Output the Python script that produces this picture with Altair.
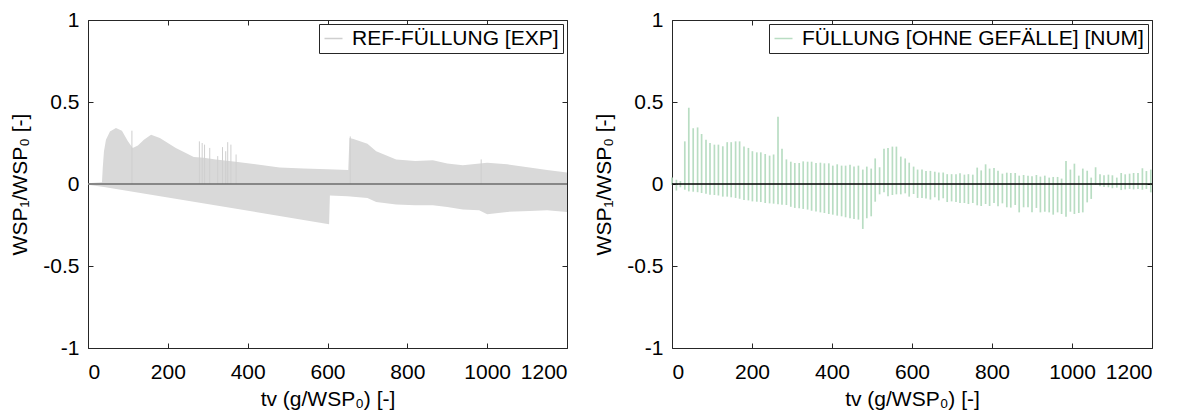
import altair as alt
import pandas as pd

# ---------------- data ----------------
# Left panel: envelope of the dense experimental signal
ref_upper_tv = [0, 35, 37, 40, 45, 55, 70, 85, 100, 112,
                125, 140, 158, 180, 200, 220, 240, 265, 290, 320,
                370, 420, 480, 540, 600, 652, 655, 665, 700, 722,
                772, 820, 864, 900, 939, 1000, 1050, 1106, 1150, 1200]
ref_upper = [0.005, 0.01, 0.1, 0.2, 0.27, 0.32, 0.342, 0.325, 0.26, 0.22,
             0.235, 0.27, 0.30, 0.28, 0.25, 0.22, 0.195, 0.165, 0.16, 0.15,
             0.135, 0.12, 0.10, 0.095, 0.09, 0.085, 0.28, 0.275, 0.245, 0.20,
             0.15, 0.14, 0.145, 0.125, 0.115, 0.13, 0.12, 0.10, 0.085, 0.07]
ref_lower_tv = [0, 40, 604, 606, 650, 700, 722, 772, 820, 864,
                900, 939, 980, 1000, 1050, 1106, 1150, 1200]
ref_lower = [-0.005, -0.018, -0.245, -0.07, -0.075, -0.085, -0.11, -0.125, -0.13, -0.13,
             -0.14, -0.155, -0.16, -0.185, -0.17, -0.165, -0.16, -0.17]
ref_spike_tv = [110, 279, 286, 292, 305, 325, 337, 345, 350, 358, 371, 657, 985]
ref_spike_top = [0.325, 0.26, 0.25, 0.24, 0.22, 0.17, 0.225, 0.2, 0.255, 0.24, 0.18, 0.29, 0.15]

# Right panel: numerical signal (vertical bursts)
num_tv = [0, 11, 21, 32, 42, 53, 64, 74, 85, 95,
          106, 116, 127, 138, 148, 159, 169, 180, 191, 201,
          212, 222, 233, 244, 254, 265, 275, 286, 297, 307,
          318, 328, 339, 349, 360, 371, 381, 392, 402, 413,
          424, 434, 445, 455, 466, 477, 487, 498, 508, 519,
          530, 540, 551, 561, 572, 583, 593, 604, 614, 625,
          635, 646, 657, 667, 678, 688, 699, 710, 720, 731,
          741, 752, 763, 773, 784, 794, 805, 815, 826, 837,
          847, 858, 868, 879, 890, 900, 911, 921, 932, 943,
          953, 964, 974, 985, 996, 1006, 1017, 1027, 1038, 1048,
          1059, 1070, 1080, 1091, 1101, 1112, 1123, 1133, 1144, 1154,
          1165, 1176, 1186, 1197]
num_top = [0.04, 0.026, 0.018, 0.26, 0.465, 0.34, 0.345, 0.305, 0.27, 0.25,
           0.24, 0.24, 0.23, 0.255, 0.255, 0.26, 0.26, 0.228, 0.22, 0.20,
           0.193, 0.193, 0.183, 0.173, 0.18, 0.41, 0.215, 0.15, 0.136, 0.128,
           0.128, 0.138, 0.136, 0.136, 0.128, 0.13, 0.126, 0.126, 0.112, 0.12,
           0.112, 0.112, 0.118, 0.106, 0.112, 0.088, 0.106, 0.094, 0.156, 0.102,
           0.215, 0.22, 0.228, 0.228, 0.167, 0.156, 0.13, 0.106, 0.088, 0.088,
           0.08, 0.08, 0.075, 0.07, 0.07, 0.06, 0.06, 0.059, 0.065, 0.057,
           0.06, 0.057, 0.1, 0.083, 0.12, 0.094, 0.098, 0.081, 0.063, 0.069,
           0.067, 0.067, 0.051, 0.055, 0.051, 0.047, 0.055, 0.045, 0.051, 0.039,
           0.043, 0.043, 0.033, 0.14, 0.088, 0.124, 0.051, 0.094, 0.081, 0.039,
           0.102, 0.06, 0.053, 0.057, 0.053, 0.039, 0.067, 0.059, 0.063, 0.067,
           0.067, 0.096, 0.079, 0.088]
num_bottom = [-0.006, -0.04, -0.02, -0.035, -0.045, -0.047, -0.05, -0.055, -0.06, -0.065,
              -0.067, -0.07, -0.077, -0.077, -0.081, -0.085, -0.09, -0.098, -0.10, -0.106,
              -0.108, -0.11, -0.116, -0.118, -0.12, -0.124, -0.126, -0.128, -0.139, -0.146,
              -0.148, -0.152, -0.156, -0.163, -0.167, -0.173, -0.177, -0.183, -0.187, -0.193,
              -0.197, -0.203, -0.209, -0.213, -0.217, -0.274, -0.209, -0.197, -0.108, -0.063,
              -0.05, -0.075, -0.067, -0.063, -0.063, -0.057, -0.077, -0.061, -0.085, -0.085,
              -0.089, -0.095, -0.081, -0.1, -0.087, -0.11, -0.106, -0.11, -0.116, -0.116,
              -0.122, -0.116, -0.13, -0.134, -0.122, -0.134, -0.116, -0.136, -0.118, -0.142,
              -0.144, -0.128, -0.173, -0.142, -0.142, -0.173, -0.146, -0.173, -0.169, -0.173,
              -0.187, -0.173, -0.183, -0.2, -0.169, -0.183, -0.177, -0.173, -0.112, -0.091,
              -0.006, -0.014, -0.018, -0.02, -0.026, -0.022, -0.037, -0.033, -0.03, -0.033,
              -0.03, -0.035, -0.03, -0.051]

x_ticks = [0, 200, 400, 600, 800, 1000, 1200]
y_ticks = [-1, -0.5, 0, 0.5, 1]
zero_level = [0]

legend_ref = "REF-FÜLLUNG [EXP]"
legend_num = "FÜLLUNG [OHNE GEFÄLLE] [NUM]"
x_title = "tv (g/WSP₀) [-]"
y_title = "WSP₁/WSP₀ [-]"

# ---------------- styling ----------------
FONT = "Liberation Sans"
FS = 21
W, H = 479, 328
GRAY_AREA = "#d9d9d9"
GRAY_SPIKE = "#cfcfcf"
GREEN = "#b9ddc3"

xs = alt.Scale(domain=[0, 1200], nice=False, zero=False)
ys = alt.Scale(domain=[-1, 1], nice=False, zero=False)


def ax_bottom():
    return alt.Axis(orient="bottom", values=x_ticks, title=x_title,
                    labelExpr="'' + datum.value", offset=-5, tickSize=5,
                    domain=False, grid=False, labelPadding=13, titlePadding=6)


def ax_left():
    return alt.Axis(orient="left", values=y_ticks, title=y_title,
                    labelExpr="'' + datum.value", offset=-5, tickSize=5,
                    domain=False, grid=False, labelPadding=9, titlePadding=12)


def ax_top():
    return alt.Axis(orient="top", values=x_ticks, labels=False, title=None,
                    offset=-5, tickSize=5, domain=False, grid=False)


def ax_right():
    return alt.Axis(orient="right", values=y_ticks, labels=False, title=None,
                    offset=-5, tickSize=5, domain=False, grid=False)


def legend():
    return alt.Legend(orient="top-right", offset=4, title=None, symbolType="stroke",
                      symbolSize=324, symbolStrokeWidth=1.5, labelFont=FONT,
                      labelFontSize=FS, labelLimit=800, padding=4, labelOffset=8,
                      strokeColor="#262626", fillColor="white", cornerRadius=0)


# ---------------- left panel ----------------
df_up = pd.DataFrame({"tv": ref_upper_tv, "v": ref_upper})
df_lo = pd.DataFrame({"tv": ref_lower_tv, "v": ref_lower})
df_sp = pd.DataFrame({"tv": ref_spike_tv, "v": ref_spike_top,
                      "series": [legend_ref] * len(ref_spike_tv)})
df_zero = pd.DataFrame({"z": zero_level})

up_area = alt.Chart(df_up).mark_area(color=GRAY_AREA).encode(
    x=alt.X("tv:Q", scale=xs, axis=ax_bottom()),
    y=alt.Y("v:Q", scale=ys, axis=ax_left()),
    y2=alt.datum(0),
)
lo_area = alt.Chart(df_lo).mark_area(color=GRAY_AREA).encode(
    x=alt.X("tv:Q", scale=xs, axis=None),
    y=alt.Y("v:Q", scale=ys, axis=None),
    y2=alt.datum(0),
)
spikes = alt.Chart(df_sp).mark_rule(strokeWidth=1).encode(
    x=alt.X("tv:Q", scale=xs, axis=ax_top()),
    y=alt.Y("v:Q", scale=ys, axis=None),
    y2=alt.datum(0),
    color=alt.Color("series:N", scale=alt.Scale(domain=[legend_ref], range=[GRAY_SPIKE]),
                    legend=legend()),
)
zero_left = alt.Chart(df_zero).mark_rule(color="#6b6b6b", strokeWidth=1.5).encode(
    y=alt.Y("z:Q", scale=ys, axis=ax_right()),
)
left = alt.layer(up_area, lo_area, spikes, zero_left).resolve_axis(
    x="independent", y="independent").properties(width=W, height=H)

# ---------------- right panel ----------------
df_num = pd.DataFrame({"tv": num_tv, "top": num_top, "bottom": num_bottom,
                       "series": [legend_num] * len(num_tv)})

bars = alt.Chart(df_num).mark_rule(strokeWidth=1.7).encode(
    x=alt.X("tv:Q", scale=xs, axis=ax_bottom()),
    y=alt.Y("top:Q", scale=ys, axis=ax_left()),
    y2="bottom:Q",
    color=alt.Color("series:N", scale=alt.Scale(domain=[legend_num], range=[GREEN]),
                    legend=legend()),
)
top_ticks = alt.Chart(df_num).mark_rule(opacity=0).encode(
    x=alt.X("tv:Q", scale=xs, axis=ax_top()),
)
zero_right = alt.Chart(df_zero).mark_rule(color="black", strokeWidth=1.5).encode(
    y=alt.Y("z:Q", scale=ys, axis=ax_right()),
)
right = alt.layer(bars, top_ticks, zero_right).resolve_axis(
    x="independent", y="independent").properties(width=W + 1, height=H)

chart = alt.hconcat(left, right, spacing=105, bounds="flush").resolve_scale(
    color="independent"
).resolve_legend(color="independent").properties(
    padding={"left": 1, "top": 0, "right": 5, "bottom": 0}
).configure_view(stroke="#262626", strokeWidth=1).configure_axis(
    labelFont=FONT, labelFontSize=FS, labelColor="black",
    titleFont=FONT, titleFontSize=FS, titleColor="black", titleFontWeight="normal",
    tickColor="#262626", tickWidth=1,
).configure_legend(labelColor="black")

chart.save("out.html", embed_options={"renderer": "svg", "actions": False})
